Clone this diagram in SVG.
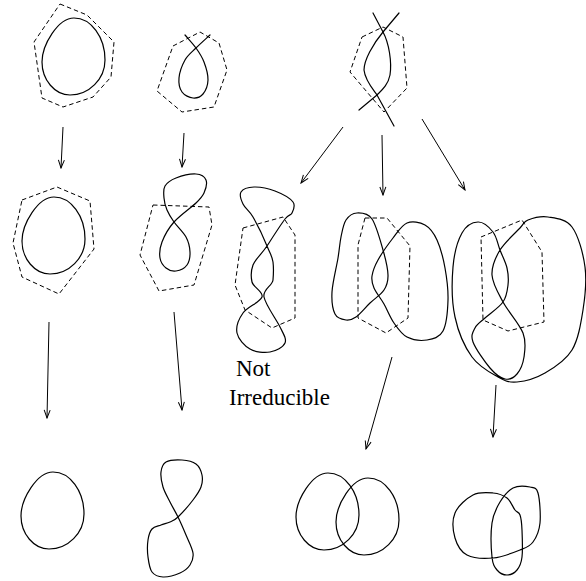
<svg xmlns="http://www.w3.org/2000/svg" width="586" height="581" viewBox="0 0 586 581">
<style>
.c{fill:none;stroke:#000;stroke-width:1.2;stroke-linejoin:round;stroke-linecap:round}
.d{fill:none;stroke:#000;stroke-width:1;stroke-dasharray:4.5,3}
.a{fill:none;stroke:#000;stroke-width:1}
.t{font-family:"Liberation Serif","Times New Roman",serif;font-size:23px;fill:#000}
</style>
<defs>
<marker id="ah" markerUnits="userSpaceOnUse" viewBox="0 0 10 8" refX="9" refY="4" markerWidth="10" markerHeight="8" orient="auto">
<path d="M1,1 L9,4 L1,7" fill="none" stroke="#000" stroke-width="1"/>
</marker>
<path id="egg" d="M74,18 C91,18 105,37 105,60 C105,79 89,95 70,95 C55,95 42,80 42,62 C42,45 58,18 74,18 Z"/>
</defs>
<rect width="586" height="581" fill="#fff"/>

<g id="n-top-circle">
<polygon class="d" points="60,4 87,15 114,42 111,77 93,97 63,107 42,98 34,42"/>
<use href="#egg" class="c"/>
</g>

<g id="n-top-loop">
<polygon class="d" points="173,46 200,32 219,43 227,70 214,107 182,112 157,91"/>
<path class="c" d="M185,35 C188.7,39.3 192.8,43.5 196,48 S202,56.7 204,62 S208.2,74.7 208,80 S205.5,91 203,94 S196.5,98.3 193,98 S184.3,95.3 182,92 S178.5,83.3 179,78 S182.2,65 185,60 S191.8,52.2 196,48 S205.3,39.3 210,35"/>
</g>

<g id="n-top-cross">
<polygon class="d" points="362,37 383,27 403,37 407,88 384,112 350,72"/>
<path class="c" d="M373,13 L383,32 C389,43 392,62 390,75 C388,85 382,90 377,95 L359,110"/>
<path class="c" d="M399,13 L383,32 C373,44 364,60 364,70 C365,80 372,88 377,95 L394,126"/>
</g>

<g id="n-mid-circle">
<polygon class="d" points="22,200 57,187 90,201 94,249 59,294 22,277 13,243"/>
<use href="#egg" class="c" transform="translate(-20,179)"/>
</g>

<g id="n-mid-loop">
<polygon class="d" points="153,205 209,207 212,225 194,285 159,291 140,255"/>
<path class="c" d="M164,198 C163.7,194 163,189.3 165,186 S170.8,180 176,178 S191,173.7 196,174 S204.7,176.8 206,180 S205.7,189.2 204,193 S201,198.2 196,203 S179.7,215.5 174,222 S164.3,236 162,242 S159.3,253.7 160,258 S163.3,265.8 166,268 S172.5,271.5 176,271 S184.7,268.2 187,265 S190.2,256.7 190,252 S188.7,242 186,237 S177.2,226.5 174,222 S168.7,214 167,210 S164.3,202 164,198 Z"/>
</g>

<g id="n-not-irreducible">
<polygon class="d" points="243,228 283,217 295,235 295,318 272,328 245,310 235,285"/>
<path class="c" d="M253,217 C249,210 245,208.2 243,204 S239.2,194.8 241,192 S248.3,187.2 254,187 S268.5,188.5 275,191 S290.2,198.3 293,202 S293.3,210.2 292,213 S289.2,213.5 285,219 S272,238.3 267,246 S255.2,259 253,265 S250.8,276.7 252,282 S263.8,291.8 262,297 S247.2,307 243,313 S235.8,327 237,333 S244.5,345.8 250,349 S264.2,353 270,352 S283.3,347.2 285,343 S283.8,334.7 280,327 S265.5,304.8 264,297 S272.5,285.8 273,280 S273.7,267.7 273,262 S270,253.5 267,246 S257,224 253,217 Z"/>
<text class="t" x="236" y="376">Not</text>
<text class="t" x="229" y="405">Irreducible</text>
</g>

<g id="n-mid-two">
<polygon class="d" points="365,218 387,218 410,246 408,318 386,333 358,318 358,245"/>
<path class="c" d="M357,213 C361.3,212.8 367.7,212.8 372,219 S380.3,240.7 383,250 S387.8,268.3 388,275 S387,285.3 384,290 S374.7,298.5 370,303 S360,314.2 356,317 S349.5,320.5 346,320 S337.3,318.7 335,314 S331.5,301.3 332,292 S336.5,267.2 338,258 S339.7,243.3 341,237 S343.3,224 346,220 S352.7,213.2 357,213 Z"/>
<path class="c" d="M407,223 C412.3,220.8 420,222.2 425,225 S433.7,232.8 437,240 S443.2,258 445,268 S448.3,289.5 448,300 S446.5,324.3 443,331 S433,339 427,340 S412.5,339.8 407,337 S397.8,328.5 394,323 S387.3,309.8 384,304 S376,292.7 374,288 S371.3,280.7 372,276 S374.5,266.3 378,260 S388.2,244.2 393,238 S401.7,225.2 407,223 Z"/>
</g>

<g id="n-mid-big">
<polygon class="d" points="481,237 522,220 542,252 544,322 508,331 483,320"/>
<path class="c" d="M478,222 C472.8,222.2 466.2,225.5 462,233 S454.2,253 453,267 S451.8,302 455,317 S464.8,347 472,357 S490.5,372.8 498,377 S509.2,382.7 517,382 S535.8,378.3 545,373 S565.7,360.5 572,350 S580.8,323.8 583,310 S586.8,280.8 585,267 S578.2,235.3 572,227 S555.3,218.2 548,217 S532.7,218.2 528,220 S524.7,223 520,228 S504.7,242.2 500,250 S491.5,266.3 492,275 S497.8,292.3 503,302 S519.5,323.8 523,333 S525,350.2 524,357 S520.2,370.3 517,374 S509.5,380 505,379 S495.3,374.2 490,368 S475.5,348.7 473,342 S473,332 475,328 S480.3,322.3 485,318 S499.2,307.5 503,302 S507.3,290.7 508,285 S508.3,273.8 507,268 S502.3,256 500,250 S496.7,236.7 493,232 S483.2,221.8 478,222 Z"/>
</g>

<g id="n-bot-circle">
<use href="#egg" class="c" transform="translate(-21,454)"/>
</g>

<g id="n-bot-eight">
<path class="c" d="M178,517 C181.8,513.3 189.2,505 193,500 S199.5,491.2 201,487 S202.8,478.8 202,475 S199.3,466.5 196,464 S187,460.3 182,460 S169.5,460 166,462 S161.5,467.8 161,472 S161.5,482 163,487 S167.5,497 170,502 S175.3,511.5 178,517 S183.5,529 186,535 S192.3,548 193,553 S192.2,561.7 190,565 S184.5,571 180,573 S167.7,577.2 163,577 S154.5,575.3 152,572 S148.7,562.3 148,557 S147.3,544.7 148,540 S149.8,531.5 152,529 S158,526.2 161,525 S167.2,523.3 170,522 S174.2,520.7 178,517 Z"/>
</g>

<g id="n-bot-two">
<use href="#egg" class="c" transform="translate(254,455)"/>
<use href="#egg" class="c" transform="translate(294,460)"/>
</g>

<g id="n-bot-knot">
<path class="c" d="M492,557 C491.2,549.2 490.7,532.2 492,523 S496.5,507.8 500,502 S508,490.5 513,488 S525.8,486.2 530,487 S536.3,487 538,493 S540.8,514.8 540,523 S536.3,537.5 533,542 S526.7,547.3 520,550 S501.8,557.2 493,558 S473.3,558.3 467,555 S457,545 455,538 S452,520.2 455,513 S466.7,498.3 473,495 S487.3,492.5 493,493 S503.3,495.2 507,498 S512.8,507.2 515,510 S518.8,511.7 520,515 S521.7,523 522,530 S522.8,550.3 522,557 S519.5,567 517,570 S510.3,575 507,575 S499.5,573 497,570 S492.8,564.8 492,557 Z"/>
</g>

<g id="connectors" class="a" marker-end="url(#ah)">
<line x1="63" y1="127" x2="61" y2="168"/>
<line x1="184" y1="133" x2="182" y2="167"/>
<line x1="343" y1="127" x2="301" y2="183"/>
<line x1="382" y1="135" x2="383" y2="195"/>
<line x1="422" y1="119" x2="465" y2="190"/>
<line x1="49" y1="322" x2="47" y2="418"/>
<line x1="174" y1="312" x2="182" y2="410"/>
<line x1="392" y1="357" x2="366" y2="449"/>
<line x1="496" y1="385" x2="493" y2="437"/>
</g>
</svg>
